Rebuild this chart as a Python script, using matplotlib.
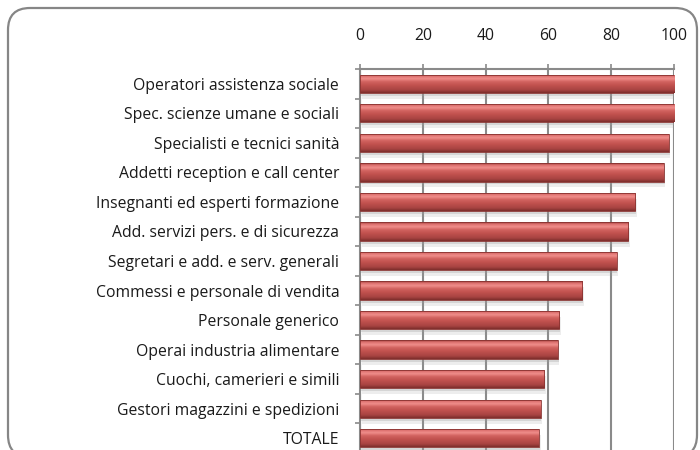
import numpy as np
import matplotlib
matplotlib.use("Agg")
import matplotlib.pyplot as plt
from matplotlib.patches import FancyBboxPatch
from matplotlib.colors import LinearSegmentedColormap

categories = [
    "Operatori assistenza sociale",
    "Spec. scienze umane e sociali",
    "Specialisti e tecnici sanità",
    "Addetti reception e call center",
    "Insegnanti ed esperti formazione",
    "Add. servizi pers. e di sicurezza",
    "Segretari e add. e serv. generali",
    "Commessi e personale di vendita",
    "Personale generico",
    "Operai industria alimentare",
    "Cuochi, camerieri e simili",
    "Gestori magazzini e spedizioni",
    "TOTALE",
]
values = [100.0, 100.0, 98.3, 96.7, 87.7, 85.5, 81.7, 70.8, 63.4, 63.0, 58.6, 57.5, 57.0]
x_ticks = [0, 20, 40, 60, 80, 100]

plt.rcParams["font.family"] = ["Open Sans", "DejaVu Sans"]

W, H = 700, 450
fig = plt.figure(figsize=(7, 4.5), dpi=100)

# rounded chart frame (inches)
frame = FancyBboxPatch((0.08, -0.07), 6.89, 4.49,
                       boxstyle="round,pad=0,rounding_size=0.22",
                       transform=fig.dpi_scale_trans, facecolor="white",
                       edgecolor="#868686", linewidth=1.6, zorder=-5)
fig.patches.append(frame)

ax = fig.add_axes([360 / W, -3 / H, 314 / W, 384 / H])
ax.set_facecolor("none")
ax.set_zorder(2)

y = np.arange(len(categories))
bh = 0.62

# soft shadow under bars
ax.barh(y + 0.2, values, height=bh, left=0.5, color="#a0a0a0", alpha=0.18, zorder=2)
ax.barh(y + 0.1, values, height=bh, left=0.3, color="#a0a0a0", alpha=0.3, zorder=2)

bars = ax.barh(y, values, height=bh, color="#C0504D", zorder=3)

cmap = LinearSegmentedColormap.from_list("bevel", [
    (0.0, "#9a3c3a"), (0.10, "#dc706e"), (0.24, "#f08e8b"), (0.40, "#d2625f"),
    (0.60, "#c0514e"), (0.84, "#a84442"), (1.0, "#7d2e2c")])
grad = np.linspace(0, 1, 64).reshape(-1, 1)
for b in bars:
    x0, y0, w, h = b.get_x(), b.get_y(), b.get_width(), b.get_height()
    im = ax.imshow(grad, cmap=cmap, aspect="auto", extent=(x0, x0 + w, y0 + h, y0),
                   zorder=4, interpolation="bilinear")
    im.set_clip_path(b)
    b.set_edgecolor("#8a3331")
    b.set_linewidth(0.6)
    b.set_zorder(5)
    b.set_facecolor("none")

ax.set_xlim(0, 100)
ax.set_ylim(len(categories) - 0.5, -0.5)
ax.xaxis.tick_top()
ax.set_xticks(x_ticks)
ax.set_xticklabels([str(t) for t in x_ticks])
ax.tick_params(axis="x", length=3.6, width=1.2, color="#8a8a8a", pad=14.5, labelsize=11.3, labelcolor="#1a1a1a")
ax.set_yticks(y)
ax.set_yticklabels(categories)
ax.set_yticks(np.arange(len(categories) + 1) - 0.5, minor=True)
ax.tick_params(axis="y", which="major", length=0, pad=15, labelsize=11.3, labelcolor="#1a1a1a")
ax.tick_params(axis="y", which="minor", length=3.6, width=1.2, color="#8a8a8a")
ax.grid(axis="x", color="#8a8a8a", linewidth=1.5, zorder=1)
ax.set_axisbelow(True)
for s in ["right", "bottom"]:
    ax.spines[s].set_visible(False)
for s in ["left", "top"]:
    ax.spines[s].set_color("#8a8a8a")
    ax.spines[s].set_linewidth(1.5)

fig.savefig("out.png", dpi=100)
